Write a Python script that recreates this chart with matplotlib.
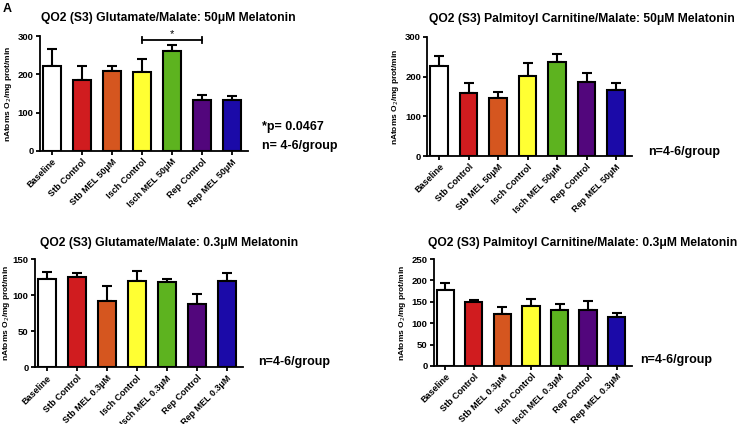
import numpy as np
import matplotlib
matplotlib.use('Agg')
from matplotlib import pyplot as plt

plt.rcParams['font.family'] = ['Liberation Sans', 'DejaVu Sans']

# begin DATA
groups_50 = ['Baseline', 'Stb Control', 'Stb MEL 50\u03bcM', 'Isch Control',
             'Isch MEL 50\u03bcM', 'Rep Control', 'Rep MEL 50\u03bcM']
groups_03 = ['Baseline', 'Stb Control', 'Stb MEL 0.3\u03bcM', 'Isch Control',
             'Isch MEL 0.3\u03bcM', 'Rep Control', 'Rep MEL 0.3\u03bcM']
colors = ['#ffffff', '#d01c1f', '#d5561f', '#ffff33', '#5db31f', '#52067c', '#1b0aa8']

glu_50_mean = [222, 185, 209, 207, 261, 132, 132]
glu_50_err = [43, 37, 13, 32, 15, 15, 12]

pal_50_mean = [227, 158, 146, 202, 236, 187, 167]
pal_50_err = [25, 25, 14, 32, 22, 21, 17]

glu_03_mean = [122.6, 125.4, 92, 119.4, 117.5, 87.8, 119.4]
glu_03_err = [9.5, 4.6, 21, 14.5, 5.5, 14, 11.6]

pal_03_mean = [176.8, 148.8, 122, 141, 131.6, 131.6, 115]
pal_03_err = [16.5, 6.5, 17, 16, 14, 19.5, 9]
# end DATA

fig = plt.figure(figsize=(7.38, 4.24), dpi=100)


def draw_panel(rect, title, labels, means, errs, ymax, ystep, title_xy, lpad=3):
    ax = fig.add_axes(rect)
    x = np.arange(len(means))
    ax.bar(x, means, width=0.6, color=colors, edgecolor='black', linewidth=1.5, zorder=2)
    ax.errorbar(x, means, yerr=[np.zeros(len(errs)), errs], fmt='none',
                ecolor='black', elinewidth=1.5, capsize=3.5, capthick=1.5, zorder=1)
    ax.set_xlim(-0.4, len(means) - 0.47)
    ax.set_ylim(0, ymax)
    ax.set_yticks(np.arange(0, ymax + 1, ystep))
    ax.set_xticks(x)
    ax.set_xticklabels(labels, rotation=45, ha='right', rotation_mode='anchor',
                       fontsize=6.5, fontweight='bold')
    for lab in ax.get_yticklabels():
        lab.set_fontweight('bold')
        lab.set_fontsize(6.8)
    for s in ['top', 'right']:
        ax.spines[s].set_visible(False)
    for s in ['left', 'bottom']:
        ax.spines[s].set_linewidth(1.3)
    ax.tick_params(axis='both', width=1.3, length=3, pad=1.5)
    ax.set_ylabel('nAtoms O$_2$/mg prot/min', fontsize=6.0, fontweight='bold',
                  labelpad=lpad)
    fig.text(title_xy[0], title_xy[1], title, fontsize=8.7,
             fontweight='bold', ha='center', va='center')
    return ax


ax1 = draw_panel([0.054, 0.644, 0.282, 0.271],
                 'QO2 (S3) Glutamate/Malate: 50\u03bcM Melatonin',
                 groups_50, glu_50_mean, glu_50_err, 300, 100, (0.228, 0.958))
# significance bracket Isch Control vs Rep Control
ax1.plot([3, 5], [290, 290], color='black', lw=1.3, clip_on=False)
ax1.plot([3, 3], [282, 298], color='black', lw=1.3, clip_on=False)
ax1.plot([5, 5], [282, 298], color='black', lw=1.3, clip_on=False)
ax1.text(4, 293, '*', ha='center', va='bottom', fontsize=8)
fig.text(0.355, 0.70, '*p= 0.0467', fontsize=9, fontweight='bold', va='center')
fig.text(0.355, 0.655, 'n= 4-6/group', fontsize=9, fontweight='bold', va='center')

draw_panel([0.579, 0.632, 0.277, 0.281],
           'QO2 (S3) Palmitoyl Carnitine/Malate: 50\u03bcM Melatonin',
           groups_50, pal_50_mean, pal_50_err, 300, 100, (0.788, 0.955))
fig.text(0.878, 0.641, 'n=4-6/group', fontsize=9, fontweight='bold', va='center')

draw_panel([0.047, 0.134, 0.282, 0.255],
           'QO2 (S3) Glutamate/Malate: 0.3\u03bcM Melatonin',
           groups_03, glu_03_mean, glu_03_err, 150, 50, (0.229, 0.427), lpad=0.5)
fig.text(0.35, 0.146, 'n=4-6/group', fontsize=9, fontweight='bold', va='center')

draw_panel([0.588, 0.137, 0.268, 0.252],
           'QO2 (S3) Palmitoyl Carnitine/Malate: 0.3\u03bcM Melatonin',
           groups_03, pal_03_mean, pal_03_err, 250, 50, (0.790, 0.427))
fig.text(0.868, 0.151, 'n=4-6/group', fontsize=9, fontweight='bold', va='center')

fig.text(0.004, 0.978, 'A', fontsize=9, fontweight='bold', va='center')

fig.savefig('out.png', dpi=100)
